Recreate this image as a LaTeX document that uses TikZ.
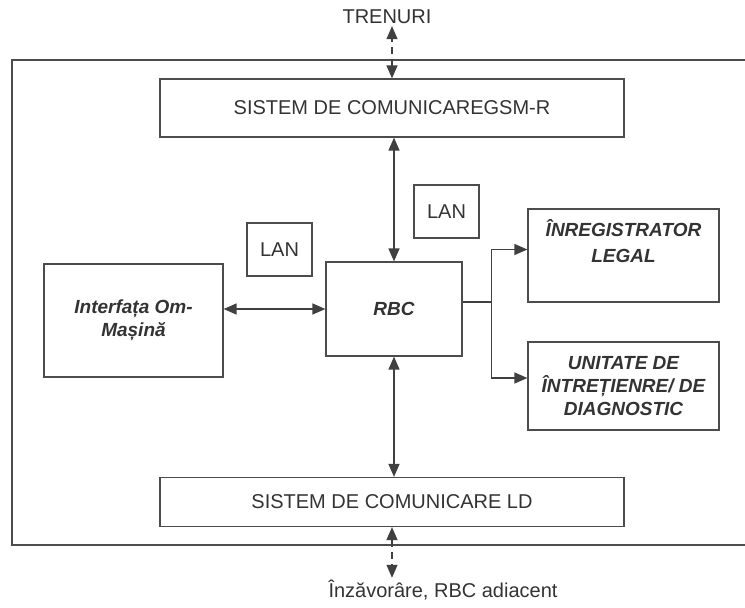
\documentclass[tikz,border=0pt]{standalone}
\usepackage{fontspec}
\setmainfont{Liberation Sans}
\usetikzlibrary{arrows.meta}

\begin{document}
\begin{tikzpicture}[
        x=1pt, y=-1pt,
        font=\fontsize{20}{23}\selectfont, text=black!80,
        block/.style={draw=black!70, line width=1.2pt, rectangle, align=center, inner sep=0pt},
        unit/.style={block, font=\fontsize{19}{23}\selectfont\bfseries\itshape},
        rel/.style={<->, >={Triangle[length=13pt,width=11pt]}, draw=black!75, line width=1.3pt},
        link/.style={rel, dash pattern=on 7pt off 5pt}
    ]
        \useasboundingbox (0,0) rectangle (745,608);

        \draw[draw=black!70, line width=1.2pt] (745,60) -| (12,545) -- (745,545);

        \node[block, minimum width=464pt, minimum height=58pt] (gsm) at (392,108) {SISTEM DE COMUNICAREGSM-R};
        \node[block, minimum width=464pt, minimum height=49pt] (ld) at (392,502) {SISTEM DE COMUNICARE LD};
        \node[unit, minimum width=136pt, minimum height=94pt] (rbc) at (394,309) {RBC};
        \node[unit, minimum width=179pt, minimum height=113pt] (hmi) at (133.5,320.5) {Interfața Om-\\Mașină};
        \node[block, minimum width=65pt, minimum height=53pt] (lanA) at (279.5,249.5) {LAN};
        \node[block, minimum width=65pt, minimum height=53pt] (lanB) at (446.5,211.5) {LAN};
        \node[unit, minimum width=191pt, minimum height=93pt] (legal) at (623.5,255.5) {ÎNREGISTRATOR\\[3pt]LEGAL\\ \strut};
        \node[unit, minimum width=191pt, minimum height=88pt] (diag) at (623.5,386) {UNITATE DE\\ÎNTREȚIENRE/ DE\\DIAGNOSTIC};
        \node[inner sep=2pt] (trains) at (387,17) {TRENURI};
        \node[inner sep=2pt] (adjacent) at (443,590) {Înzăvorâre, RBC adiacent};

        \draw[link] (gsm.north) -- (gsm.north |- trains.south);
        \draw[rel] (rbc.north |- gsm.south) -- (rbc.north);
        \draw[rel] (hmi.east |- rbc.west) -- (rbc.west);
        \draw[rel] (rbc.south) -- (rbc.south |- ld.north);
        \draw[link] (ld.south) -- (ld.south |- adjacent.north);

        \draw[draw=black!75, line width=1.3pt] ([yshift=7pt]rbc.east) -- ++(29,0) coordinate (fork);
        \draw[rel, <-] ([yshift=6pt]legal.west) -| (fork);
        \draw[rel, <-] ([yshift=8pt]diag.west) -| (fork);
    \end{tikzpicture}
\end{document}
